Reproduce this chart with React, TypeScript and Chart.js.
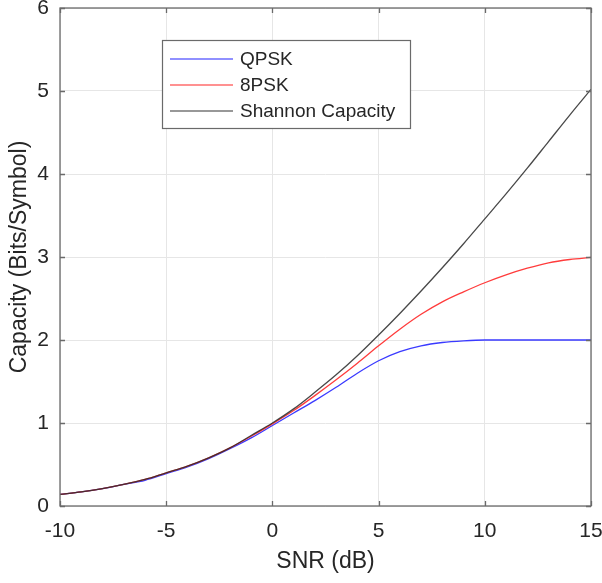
import React, { useEffect, useRef } from 'react';
import { Chart, registerables } from 'chart.js';

Chart.register(...registerables);

// ---- data ----
const snrDb = [-10, -9, -8, -7, -6, -5, -4, -3, -2, -1, 0, 1, 2, 3, 4, 5, 6, 7, 8, 9, 10, 11, 12, 13, 14, 15];
const qpsk = [0.14, 0.17, 0.21, 0.26, 0.31, 0.39, 0.47, 0.57, 0.69, 0.82, 0.97, 1.12, 1.27, 1.43, 1.6, 1.75, 1.86, 1.93, 1.97, 1.99, 2.0, 2.0, 2.0, 2.0, 2.0, 2.0];
const psk8 = [0.14, 0.17, 0.21, 0.26, 0.32, 0.4, 0.48, 0.58, 0.7, 0.84, 0.99, 1.15, 1.33, 1.52, 1.72, 1.93, 2.13, 2.31, 2.46, 2.58, 2.69, 2.785, 2.865, 2.93, 2.97, 2.995];
const shannon = [0.14, 0.17, 0.21, 0.26, 0.32, 0.4, 0.48, 0.58, 0.7, 0.85, 1.0, 1.17, 1.37, 1.58, 1.81, 2.06, 2.32, 2.59, 2.87, 3.16, 3.46, 3.76, 4.07, 4.39, 4.71, 5.02];
const seriesLabels = ['QPSK', '8PSK', 'Shannon Capacity'];
const xTicks = [-10, -5, 0, 5, 10, 15];
const yTicks = [0, 1, 2, 3, 4, 5, 6];
const xTitle = 'SNR (dB)';
const yTitle = 'Capacity (Bits/Symbol)';

const FONT = '"Liberation Sans", Arial, Helvetica, sans-serif';
const TEXT = '#262626';
const colors = ['#3a3aff', '#ff3c3c', 'rgba(40,40,40,0.85)'];

const framePlugin = {
  id: 'frameTicks',
  afterDatasetsDraw(chart: any) {
    const { ctx, chartArea } = chart;
    const { left, right, top, bottom } = chartArea;
    const xs = chart.scales.x;
    const ys = chart.scales.y;
    ctx.save();
    ctx.strokeStyle = '#6a6a6a';
    ctx.lineWidth = 1.3;
    ctx.beginPath();
    const L = 5;
    xTicks.forEach((v) => {
      const px = Math.round(xs.getPixelForValue(v)) + 0.5;
      ctx.moveTo(px, bottom);
      ctx.lineTo(px, bottom - L);
      ctx.moveTo(px, top);
      ctx.lineTo(px, top + L);
    });
    yTicks.forEach((v) => {
      const py = Math.round(ys.getPixelForValue(v)) + 0.5;
      ctx.moveTo(left, py);
      ctx.lineTo(left + L, py);
      ctx.moveTo(right, py);
      ctx.lineTo(right - L, py);
    });
    ctx.stroke();
    ctx.strokeRect(left, top, right - left, bottom - top);
    ctx.restore();
  },
};

const legendPlugin = {
  id: 'boxLegend',
  afterDraw(chart: any) {
    const { ctx } = chart;
    const bx = 162, by = 40, bw = 248, bh = 88;
    ctx.save();
    ctx.fillStyle = '#ffffff';
    ctx.fillRect(bx, by, bw, bh);
    ctx.strokeStyle = '#6a6a6a';
    ctx.lineWidth = 1.2;
    ctx.strokeRect(bx + 0.5, by + 0.5, bw, bh);
    ctx.font = `19px ${FONT}`;
    ctx.textBaseline = 'middle';
    ctx.textAlign = 'left';
    chart.data.datasets.forEach((ds: any, i: number) => {
      const cy = by + 19 + i * 26;
      ctx.strokeStyle = ds.borderColor;
      ctx.globalAlpha = 0.75;
      ctx.lineWidth = 1.5;
      ctx.beginPath();
      ctx.moveTo(170, cy);
      ctx.lineTo(233, cy);
      ctx.stroke();
      ctx.globalAlpha = 1;
      ctx.fillStyle = TEXT;
      ctx.fillText(ds.label, 240, cy + 1);
    });
    ctx.restore();
  },
};

export default function App() {
  const ref = useRef<HTMLCanvasElement | null>(null);

  useEffect(() => {
    if (!ref.current) return;
    const series = [qpsk, psk8, shannon];
    const chart = new Chart(ref.current, {
      type: 'line',
      data: {
        datasets: series.map((vals, i) => ({
          label: seriesLabels[i],
          data: snrDb.map((x, k) => ({ x, y: vals[k] })),
          borderColor: colors[i],
          borderWidth: 1.3,
          pointRadius: 0,
          fill: false,
          cubicInterpolationMode: 'monotone' as const,
          order: 2 - i,
        })),
      },
      options: {
        animation: false,
        responsive: false,
        maintainAspectRatio: false,
        layout: { padding: { top: 8, right: 11, left: 0, bottom: 0 } },
        plugins: { legend: { display: false }, tooltip: { enabled: false } },
        scales: {
          x: {
            type: 'linear',
            min: -10,
            max: 15,
            afterBuildTicks: (s: any) => {
              s.ticks = xTicks.map((v) => ({ value: v }));
            },
            afterFit: (s: any) => {
              s.height = 77;
              s.paddingLeft = 0;
              s.paddingRight = 0;
            },
            grid: { color: '#e6e6e6', drawTicks: false, lineWidth: 1 },
            border: { display: false },
            ticks: { font: { size: 21, family: FONT }, color: TEXT, padding: 13, maxRotation: 0 },
            title: {
              display: true,
              text: xTitle,
              font: { size: 23, family: FONT },
              color: TEXT,
              padding: { top: 0, bottom: 8 },
            },
          },
          y: {
            type: 'linear',
            min: 0,
            max: 6,
            afterBuildTicks: (s: any) => {
              s.ticks = yTicks.map((v) => ({ value: v }));
            },
            afterFit: (s: any) => {
              s.width = 60;
              s.paddingTop = 0;
              s.paddingBottom = 0;
            },
            grid: { color: '#e6e6e6', drawTicks: false, lineWidth: 1 },
            border: { display: false },
            ticks: { font: { size: 21, family: FONT }, color: TEXT, padding: 11 },
            title: {
              display: true,
              text: yTitle,
              font: { size: 23, family: FONT },
              color: TEXT,
              padding: { top: 6, bottom: 0 },
            },
          },
        },
      },
      plugins: [framePlugin, legendPlugin],
    });
    return () => chart.destroy();
  }, []);

  return (
    <div style={{ position: 'absolute', left: 0, top: 0, width: 602, height: 583, background: '#fff' }}>
      <canvas ref={ref} width={602} height={583} style={{ display: 'block' }} />
    </div>
  );
}
